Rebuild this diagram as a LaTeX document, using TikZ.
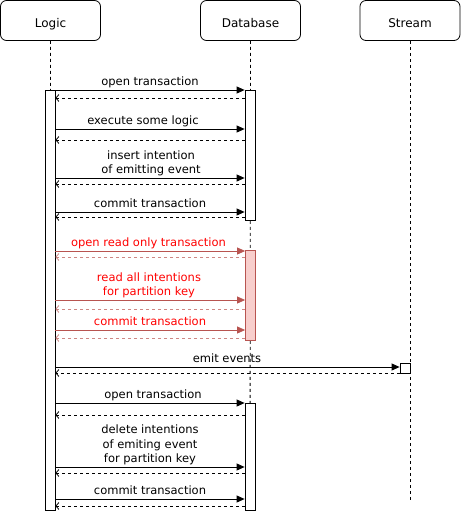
\documentclass[tikz,border=0pt]{standalone}
\usepackage{fontspec}
\setmainfont{DejaVu Sans}
\usetikzlibrary{arrows.meta}
\definecolor{redline}{HTML}{B85450}
\definecolor{redfill}{HTML}{F8CECC}
\definecolor{redtext}{HTML}{FF0000}
\begin{document}
\begin{tikzpicture}[x=1pt,y=-1pt,
 head/.style={draw, rounded corners=6pt, minimum width=100pt, minimum height=40pt, font=\fontsize{12}{14}\selectfont, inner sep=0pt, text height=13.5pt, text depth=0pt, line width=0.8pt},
 life/.style={dash pattern=on 3pt off 3pt, line width=0.8pt},
 bar/.style={draw, fill=white, minimum width=10pt, inner sep=0pt, line width=0.8pt},
 call/.style={-{Triangle[length=8pt,width=7pt]}, line width=0.8pt},
 ret/.style={-{Straight Barb[length=3pt,width=7pt]}, dash pattern=on 3pt off 3pt, line width=0.8pt},
 lbl/.style={font=\fontsize{11.5}{14.5}\selectfont, align=center, inner sep=0pt, text depth=0pt, anchor=south},
 redcall/.style={call, draw=redline},
 redret/.style={ret, draw=redline!70},
]
\useasboundingbox (0,0) rectangle (461,517);

% y positions of messages
\foreach \n/\y in {a1/90, r1/98, a2/129, r2/140, a3/178, r3/184, a4/212, r4/217,
  a5/251, r5/257, a6/300, r6/309, a7/330, r7/338, a8/367, r8/373,
  a9/403, r9/415, a10/467, r10/473, a11/499, r11/506}
  \coordinate (\n) at (0,\y);

% headers
\node[head] (logic) at (50.5,20.5) {Logic};
\node[head] (database) at (250.5,20.5) {Database};
\node[head] (stream) at (410,20.5) {Stream};

% lifeline ends
\coordinate (lend) at (50,500);
\coordinate (dend) at (250,500);
\coordinate (send) at (410,500);

\draw[life] (logic.south) -- (lend);
\draw[life] (database.south) -- (dend);
\draw[life] (stream.south) -- (send);

% activation bars
\node[bar, minimum height=420pt] (lb) at (50,300) {};
\node[bar, minimum height=130pt] (db1) at (250,155) {};
\node[bar, minimum height=90pt, draw=redline, fill=redfill] (db2) at (250.5,295) {};
\node[bar, minimum height=10pt] (sb) at (405,368) {};
\node[bar, minimum height=107pt] (db3) at (250,456.5) {};

% messages
\draw[call] (lb.east |- a1) -- (db1.west |- a1);
\node[lbl] (t1) at (150,86) {open transaction};
\draw[ret] (db1.west |- r1) -- (lb.east |- r1);

\draw[call] (lb.east |- a2) -- (db1.west |- a2);
\node[lbl] (t2) at (143,124.5) {execute some logic};
\draw[ret] (db1.west |- r2) -- (lb.east |- r2);

\draw[call] (lb.east |- a3) -- (db1.west |- a3);
\node[lbl] (t3) at (151,174) {insert intention\\of emitting event};
\draw[ret] (db1.west |- r3) -- (lb.east |- r3);

\draw[call] (lb.east |- a4) -- (db1.west |- a4);
\node[lbl] (t4) at (150,207.5) {commit transaction};
\draw[ret] (db1.west |- r4) -- (lb.east |- r4);

\draw[redcall] (lb.east |- a5) -- (db2.west |- a5);
\node[lbl, text=redtext] (t5) at (148.5,246.5) {open read only transaction};
\draw[redret] (db2.west |- r5) -- (lb.east |- r5);

\draw[redcall] (lb.east |- a6) -- (db2.west |- a6);
\node[lbl, text=redtext] (t6) at (149,296) {read all intentions\\for partition key};
\draw[redret] (db2.west |- r6) -- (lb.east |- r6);

\draw[redcall] (lb.east |- a7) -- (db2.west |- a7);
\node[lbl, text=redtext] (t7) at (150,325.5) {commit transaction};
\draw[redret] (db2.west |- r7) -- (lb.east |- r7);

\draw[call] (lb.east |- a8) -- (sb.west |- a8);
\node[lbl] (t8) at (227,362.5) {emit events};
\draw[ret] (sb.west |- r8) -- (lb.east |- r8);

\draw[call] (lb.east |- a9) -- (db3.west |- a9);
\node[lbl] (t9) at (153,398.5) {open transaction};
\draw[ret] (db3.west |- r9) -- (lb.east |- r9);

\draw[call] (lb.east |- a10) -- (db3.west |- a10);
\node[lbl] (t10) at (150,463) {delete intentions\\of emiting event\\for partition key};
\draw[ret] (db3.west |- r10) -- (lb.east |- r10);

\draw[call] (lb.east |- a11) -- (db3.west |- a11);
\node[lbl] (t11) at (150,494.5) {commit transaction};
\draw[ret] (db3.west |- r11) -- (lb.east |- r11);
\end{tikzpicture}
\end{document}
